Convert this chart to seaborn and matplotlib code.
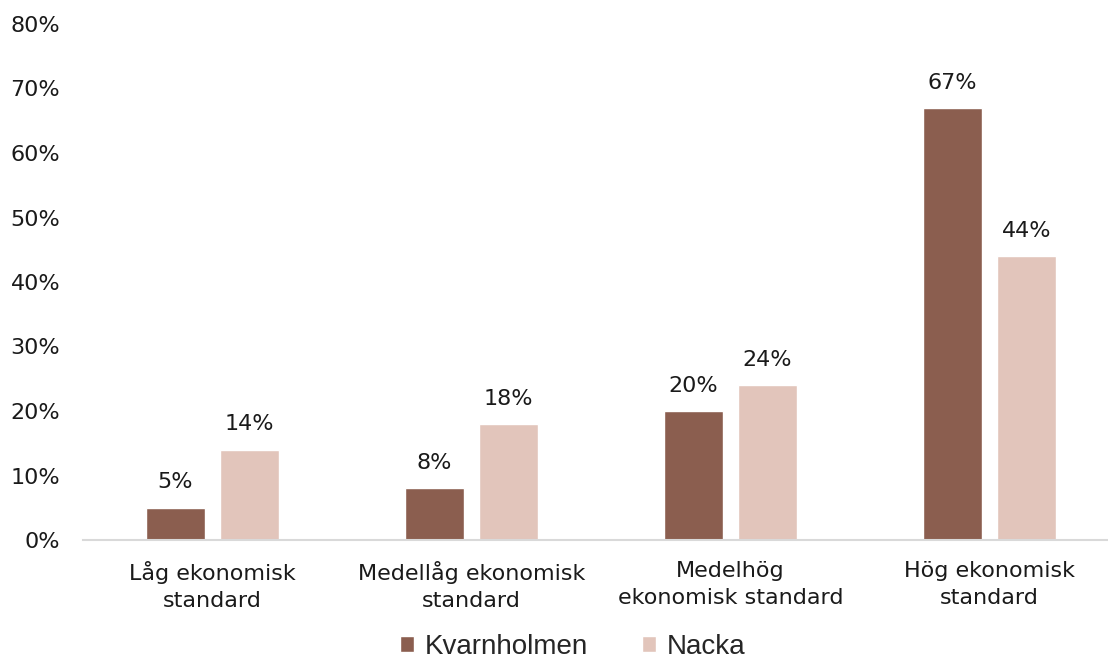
import matplotlib
matplotlib.use("Agg")
import matplotlib.pyplot as plt
import seaborn as sns
import pandas as pd

categories = [
    "Låg ekonomisk\nstandard",
    "Medellåg ekonomisk\nstandard",
    "Medelhög\nekonomisk standard",
    "Hög ekonomisk\nstandard",
]
series_names = ["Kvarnholmen", "Nacka"]
kvarnholmen = [5, 8, 20, 67]
nacka = [14, 18, 24, 44]
yticks = [0, 10, 20, 30, 40, 50, 60, 70, 80]
colors = {"Kvarnholmen": "#8B5E4F", "Nacka": "#E2C5BB"}

df = pd.DataFrame({
    "kategori": categories * 2,
    "andel": kvarnholmen + nacka,
    "område": [series_names[0]] * 4 + [series_names[1]] * 4,
})

sns.set_theme(style="white")
plt.rcParams["font.family"] = ["DejaVu Sans"]

fig = plt.figure(figsize=(11.08, 6.64), dpi=100)
ax = fig.add_axes([83 / 1108, 124 / 664, 1036 / 1108, 516 / 664])

sns.barplot(data=df, x="kategori", y="andel", hue="område", palette=colors,
            width=0.571, gap=0.2, saturation=1, ax=ax, legend=True)

for cont in ax.containers:
    ax.bar_label(cont, fmt="%g%%", padding=11, fontsize=16, color="#1a1a1a")

ax.set_ylim(0, 80)
ax.set_xlim(-0.5, 3.5)
ax.set_yticks(yticks)
ax.set_yticklabels([f"{v}%" for v in yticks])
ax.set_xlabel("")
ax.set_ylabel("")
ax.tick_params(axis="y", length=0, pad=16.5, labelsize=16, labelcolor="#1a1a1a")
ax.tick_params(axis="x", length=0, pad=15, labelsize=16, labelcolor="#1a1a1a")
for lab in ax.get_xticklabels():
    lab.set_linespacing(1.45)

for side in ["top", "right", "left"]:
    ax.spines[side].set_visible(False)
ax.spines["bottom"].set_color("#D9D9D9")
ax.spines["bottom"].set_linewidth(1.5)

handles, labels = ax.get_legend_handles_labels()
ax.get_legend().remove()
fig.legend(handles, labels, loc="lower center", bbox_to_anchor=(0.517, -0.032),
           ncol=2, frameon=False, prop={"family": "Liberation Sans", "size": 20},
           handlelength=0.5, handleheight=0.5, handletextpad=0.4,
           columnspacing=1.95)

fig.savefig("out.png", dpi=100)
